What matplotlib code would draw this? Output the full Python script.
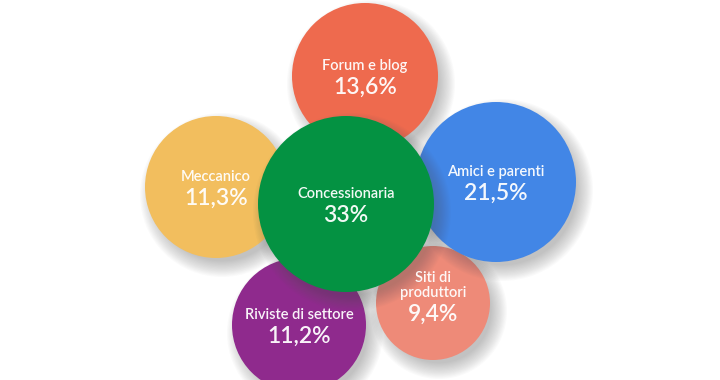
import matplotlib
matplotlib.use("Agg")
import matplotlib.pyplot as plt
from matplotlib.patches import Circle

# data
labels = ["Meccanico", "Riviste di settore", "Siti di\nproduttori",
          "Forum e blog", "Amici e parenti", "Concessionaria"]
values = ["11,3%", "11,2%", "9,4%", "13,6%", "21,5%", "33%"]
colors = ["#F2BE5E", "#8F2A8D", "#EE8A78", "#EE6A4E", "#4286E6", "#049242"]

# layout (pixel coords, drawing order = stacking order)
centers = [(216, 187), (299, 325), (433, 303), (365, 76), (496, 182), (346, 204)]
radii = [71, 67, 57, 73, 80, 88]

fig = plt.figure(figsize=(7.2, 3.8), dpi=100)
ax = fig.add_axes([0, 0, 1, 1])
ax.set_xlim(0, 720)
ax.set_ylim(380, 0)
ax.set_aspect("equal")
ax.axis("off")

for i in range(len(labels)):
    cx, cy = centers[i]
    r = radii[i]
    # soft drop shadow
    n = 14
    for k in range(n):
        ax.add_patch(Circle((cx + 6, cy + 8), r + 11 - k * 1.2,
                            color="#555555", alpha=0.028, lw=0))
    ax.add_patch(Circle((cx, cy), r, color=colors[i], lw=0))

    ax.text(cx, cy - 3, labels[i], ha="center", va="bottom", color="white",
            fontsize=10.5, family="Lato", fontweight="semibold",
            linespacing=1.1, alpha=0.95)
    ax.text(cx, cy + 1, values[i], ha="center", va="top", color="white",
            fontsize=16.5, family="Lato", fontweight="semibold", alpha=0.95)

fig.savefig("out.png", dpi=100)
